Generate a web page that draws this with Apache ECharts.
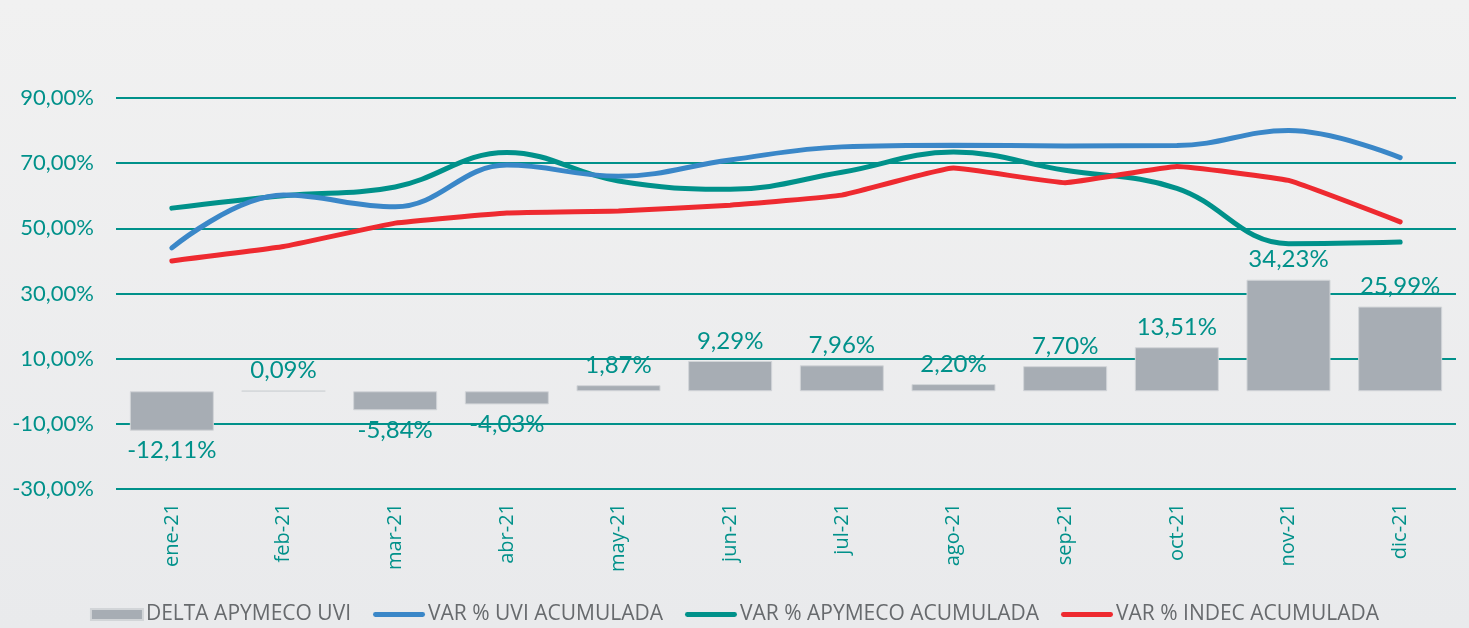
<!DOCTYPE html>
<html>
<head>
<meta charset="utf-8">
<script src="https://cdn.jsdelivr.net/npm/echarts@6/dist/echarts.min.js"></script>
<style>
  html, body {
    margin: 0;
    padding: 0;
    width: 1469px;
    height: 628px;
    background: linear-gradient(#f1f1f1, #e9eaec);
  }
  #chart {
    width: 1469px;
    height: 628px;
  }
</style>
</head>
<body>
<div id="chart"></div>
<script>
const months = ["ene-21", "feb-21", "mar-21", "abr-21", "may-21", "jun-21",
  "jul-21", "ago-21", "sep-21", "oct-21", "nov-21", "dic-21"];
const deltaApymecoUvi = [-12.11, 0.09, -5.84, -4.03, 1.87, 9.29, 7.96, 2.20, 7.70, 13.51, 34.23, 25.99];
const varUvi = [44.0, 60.2, 56.6, 69.4, 66.0, 71.0, 75.0, 75.5, 75.3, 75.4, 80.0, 71.7];
const varApymeco = [56.2, 60.0, 62.7, 73.3, 64.5, 62.0, 67.2, 73.4, 67.8, 62.3, 45.3, 45.8];
const varIndec = [40.0, 44.4, 51.6, 54.7, 55.3, 57.1, 60.2, 68.5, 64.0, 69.0, 64.7, 52.0];

const teal = "#00918a";
const fmt = (v, d) => v.toFixed(d).replace(".", ",") + "%";
// thick rounded line for the legend
const lineIcon = "path://M2.5,0 H52 A2.5,2.5 0 0 1 52,5 H2.5 A2.5,2.5 0 0 1 2.5,0 Z";

const chart = echarts.init(document.getElementById("chart"));

const option = {
  backgroundColor: "transparent",
  textStyle: { fontFamily: "Lato" },
  grid: { left: 116, right: 13, top: 98, bottom: 139 },
  legend: {
    top: 599,
    left: "center",
    itemGap: 22,
    itemWidth: 52,
    itemHeight: 11,
    symbolKeepAspect: true,
    textStyle: { fontFamily: "Open Sans", fontSize: 21, color: "#676a6d", padding: [0, 0, 0, -2] },
    data: [
      { name: "DELTA APYMECO UVI", icon: "rect" },
      { name: "VAR % UVI ACUMULADA", icon: lineIcon },
      { name: "VAR % APYMECO ACUMULADA", icon: lineIcon },
      { name: "VAR % INDEC ACUMULADA", icon: lineIcon }
    ]
  },
  xAxis: {
    type: "category",
    data: months,
    axisLine: { show: false, onZero: false },
    axisTick: { show: false },
    axisLabel: { rotate: 90, color: teal, fontFamily: "Open Sans", fontSize: 20, margin: 14 }
  },
  yAxis: {
    type: "value",
    min: -30,
    max: 90,
    interval: 20,
    axisLine: { show: false },
    axisTick: { show: false },
    splitLine: { lineStyle: { color: teal, width: 2 } },
    axisLabel: {
      color: teal,
      fontSize: 22,
      margin: 22,
      formatter: (v) => fmt(v, 2)
    }
  },
  series: [
    {
      name: "DELTA APYMECO UVI",
      type: "bar",
      barWidth: 84,
      itemStyle: { color: "#a7adb4", borderColor: "#d2d5d8", borderWidth: 1 },
      data: deltaApymecoUvi.map((v) => ({
        value: v,
        label: { position: v < 0 ? "bottom" : "top" }
      })),
      label: {
        show: true,
        color: teal,
        fontFamily: "Lato",
        fontSize: 24,
        distance: 8,
        formatter: (p) => fmt(p.value, 2)
      },
      z: 2
    },
    {
      name: "VAR % UVI ACUMULADA",
      type: "line",
      data: varUvi,
      smooth: 0.4,
      symbol: "none",
      lineStyle: { color: "#3a87c8", width: 5, cap: "round" },
      itemStyle: { color: "#3a87c8" },
      z: 4
    },
    {
      name: "VAR % APYMECO ACUMULADA",
      type: "line",
      data: varApymeco,
      smooth: 0.4,
      symbol: "none",
      lineStyle: { color: "#00918a", width: 5, cap: "round" },
      itemStyle: { color: "#00918a" },
      z: 3
    },
    {
      name: "VAR % INDEC ACUMULADA",
      type: "line",
      data: varIndec,
      smooth: 0.1,
      symbol: "none",
      lineStyle: { color: "#ee2a30", width: 5, cap: "round" },
      itemStyle: { color: "#ee2a30" },
      z: 3
    }
  ]
};

chart.setOption(option);
</script>
</body>
</html>
